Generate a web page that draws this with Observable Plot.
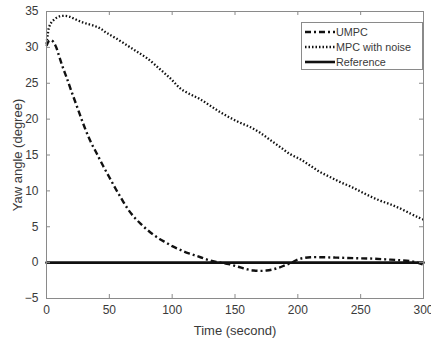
<!DOCTYPE html>
<html>
<head>
<meta charset="utf-8">
<script src="https://cdn.jsdelivr.net/npm/d3@7"></script>
<script src="https://cdn.jsdelivr.net/npm/@observablehq/plot@0.6"></script>
<style>
  html, body { margin: 0; padding: 0; background: #fff; }
  #wrap { position: relative; width: 431px; height: 340px; font-family: "Liberation Sans", Arial, sans-serif; }
  #legend { position: absolute; left: 301px; top: 22px; width: 120px; height: 46px; border: 1px solid #8a8a8a; background: #fff; font-size: 10.8px; color: #3a3a3a; }
  #legend .row { position: absolute; left: 3px; height: 14px; display: flex; align-items: center; }
  #legend svg { display: block; margin-right: 1px; }
</style>
</head>
<body>
<div id="wrap"><div id="chart"></div><div id="legend"></div></div>
<script>
// ---- data ----
const umpcT = [0,2,4,7,10,13,16,20,25,30,35,40,45,50,55,60,65,70,75,80,85,90,95,100,105,110,115,120,125,130,135,140,145,150,155,160,165,170,175,180,185,190,195,200,205,210,220,230,240,250,260,270,280,290,295,300];
const umpcV = [30.2,30.9,31.0,30.3,28.8,27.2,25.8,23.8,21.4,19.0,16.9,15.2,13.5,11.9,10.3,8.8,7.4,6.3,5.4,4.6,3.9,3.3,2.8,2.3,1.9,1.5,1.2,0.9,0.6,0.3,0.1,-0.05,-0.2,-0.45,-0.7,-0.95,-1.1,-1.15,-1.1,-0.95,-0.7,-0.35,0.0,0.45,0.65,0.75,0.75,0.7,0.65,0.6,0.55,0.45,0.35,0.2,0.0,-0.3];
const mpcT = [0,1,2,4,7,10,14,18,22,27,32,38,43,48,55,64,72,80,90,99,107,115,122,130,138,146,154,162,170,178,186,194,202,210,218,226,234,242,250,258,266,274,282,290,296,300];
const mpcV = [30.5,31.8,32.8,33.5,34.0,34.3,34.4,34.3,34.0,33.6,33.3,33.0,32.6,32.0,31.3,30.3,29.4,28.5,27.0,25.6,24.2,23.4,22.8,21.9,21.0,20.2,19.5,18.9,18.1,17.1,16.1,15.1,14.4,13.5,12.6,11.9,11.2,10.6,9.9,9.2,8.6,8.1,7.5,6.8,6.3,6.0];
const refT = [0, 300];
const refV = [0, 0];
const xTicks = [0,50,100,150,200,250,300];
const yTicks = [-5,0,5,10,15,20,25,30,35];
const seriesNames = ["UMPC", "MPC with noise", "Reference"];

const umpc = umpcT.map((t, i) => ({t, v: umpcV[i]}));
const mpc = mpcT.map((t, i) => ({t, v: mpcV[i]}));
const ref = refT.map((t, i) => ({t, v: refV[i]}));

// ---- styles ----
const W = 431, H = 340, mL = 46, mR = 8, mT = 11, mB = 42;
const innerH = H - mT - mB, innerW = W - mL - mR, tk = 4;
const styles = {
  "UMPC": {stroke: "#111", strokeWidth: 2.4, strokeDasharray: "6,3,2,3"},
  "MPC with noise": {stroke: "#111", strokeWidth: 2.3, strokeDasharray: "1.5,2"},
  "Reference": {stroke: "#111", strokeWidth: 2.6}
};
const txt = "#3a3a3a", frameC = "#8a8a8a";

const chart = Plot.plot({
  width: W, height: H,
  marginLeft: mL, marginRight: mR, marginTop: mT, marginBottom: mB,
  style: {fontFamily: "Liberation Sans, Arial, sans-serif", fontSize: "12px", fontWeight: "normal", color: txt, background: "#fff"},
  x: {domain: [0, 300]},
  y: {domain: [-5, 35]},
  marks: [
    Plot.lineY(ref, {x: "t", y: "v", ...styles["Reference"]}),
    Plot.lineY(umpc, {x: "t", y: "v", ...styles["UMPC"], strokeLinecap: "butt", curve: "catmull-rom"}),
    Plot.lineY(mpc, {x: "t", y: "v", ...styles["MPC with noise"], strokeLinecap: "butt", curve: "catmull-rom"}),
    Plot.frame({stroke: frameC, strokeWidth: 1}),
    // inward ticks on all four sides
    Plot.tickX(xTicks, {x: d => d, stroke: frameC, insetTop: innerH - tk}),
    Plot.tickX(xTicks, {x: d => d, stroke: frameC, insetBottom: innerH - tk}),
    Plot.tickY(yTicks, {y: d => d, stroke: frameC, insetRight: innerW - tk}),
    Plot.tickY(yTicks, {y: d => d, stroke: frameC, insetLeft: innerW - tk}),
    Plot.axisX(xTicks, {anchor: "bottom", tickSize: 0, tickPadding: 7, fill: txt, fontSize: 12,
      label: "Time (second)", labelAnchor: "center", labelOffset: 36, labelArrow: "none"}),
    Plot.axisY(yTicks, {anchor: "left", tickSize: 0, tickPadding: 8, fill: txt, fontSize: 12,
      label: "Yaw angle (degree)", labelAnchor: "center", labelOffset: 34, labelArrow: "none"})
  ]
});
document.getElementById("chart").appendChild(chart);

// axis label font size and weight
chart.querySelectorAll("text").forEach(t => t.setAttribute("font-weight", "normal"));
chart.querySelectorAll("g[aria-label$='axis label'] text").forEach(t => t.setAttribute("font-size", "13"));

// legend
const leg = document.getElementById("legend");
seriesNames.forEach((name, i) => {
  const row = document.createElement("div");
  row.className = "row";
  row.style.top = (2 + i * 15) + "px";
  const s = styles[name];
  row.innerHTML = `<svg width="30" height="6"><line x1="0" y1="3" x2="30" y2="3" stroke="${s.stroke}" stroke-width="${s.strokeWidth}" ${s.strokeDasharray ? `stroke-dasharray="${s.strokeDasharray}"` : ""}/></svg><span>${name}</span>`;
  leg.appendChild(row);
});
</script>
</body>
</html>
